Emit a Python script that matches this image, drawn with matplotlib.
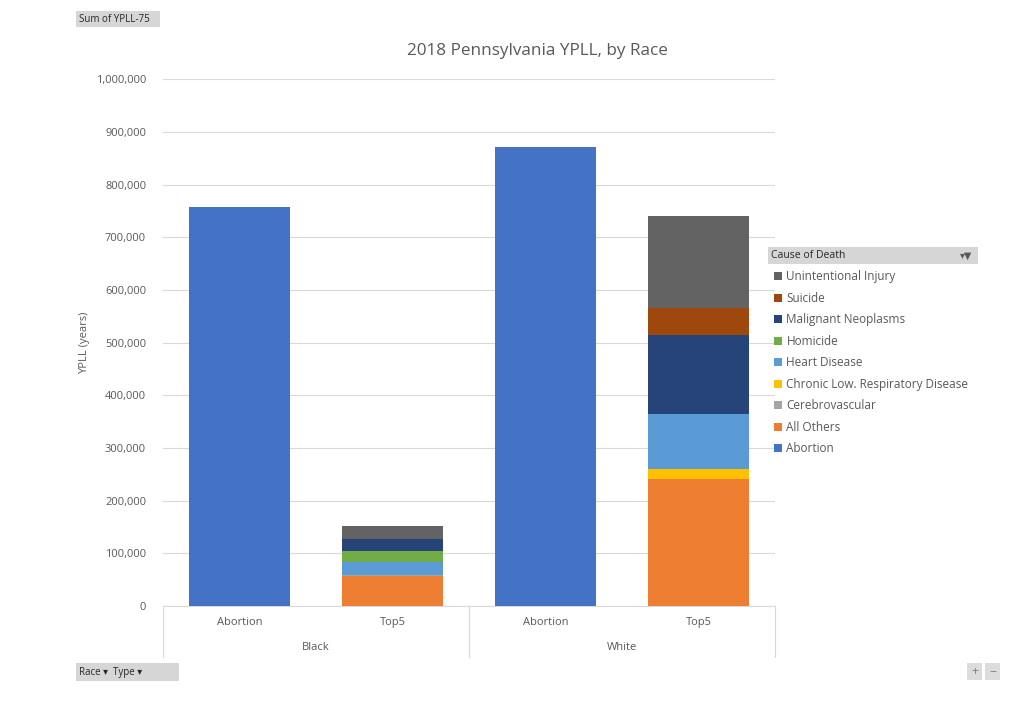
import matplotlib.pyplot as plt
from matplotlib.patches import FancyBboxPatch
import numpy as np

# Categories (Race / Type)
races = ['Black', 'White']
types = ['Abortion', 'Top5']

# Stack order, bottom to top
causes = ['Abortion', 'All Others', 'Cerebrovascular', 'Chronic Low. Respiratory Disease',
          'Heart Disease', 'Homicide', 'Malignant Neoplasms', 'Suicide', 'Unintentional Injury']

# values per cause for: Black-Abortion, Black-Top5, White-Abortion, White-Top5
abortion      = [757000, 0, 872000, 0]
all_others    = [0, 56000, 0, 241000]
cerebro       = [0, 2000, 0, 0]
chronic_resp  = [0, 0, 0, 19000]
heart         = [0, 25000, 0, 104000]
homicide      = [0, 22000, 0, 0]
malignant     = [0, 22000, 0, 150000]
suicide       = [0, 0, 0, 51000]
unintentional = [0, 25000, 0, 176000]

series = [abortion, all_others, cerebro, chronic_resp, heart, homicide,
          malignant, suicide, unintentional]
colors = ['#4472C4', '#ED7D31', '#A5A5A5', '#FFC000', '#5B9BD5', '#70AD47',
          '#264478', '#9E480E', '#636363']

txt = '#595959'
plt.rcParams['font.family'] = ['Open Sans', 'DejaVu Sans']

fig = plt.figure(figsize=(10.24, 7.1), dpi=100)
ax = fig.add_axes([0.159, 0.1465, 0.598, 0.742])

x = np.arange(len(races) * len(types))
bottom = np.zeros(len(x))
bars = []
for vals, col, name in zip(series, colors, causes):
    b = ax.bar(x, vals, 0.66, bottom=bottom, color=col, label=name, zorder=3)
    bars.append(b)
    bottom += np.array(vals)

ax.set_xlim(-0.5, 3.5)
ax.set_ylim(0, 1000000)
ax.set_yticks(np.arange(0, 1000001, 100000))
ax.set_yticklabels([f'{v:,}' for v in range(0, 1000001, 100000)], fontsize=8, color=txt)
ax.grid(axis='y', color='#D9D9D9', linewidth=0.8, zorder=0)
ax.tick_params(axis='y', length=0, pad=12)
ax.tick_params(axis='x', length=0, pad=8)
for s in ['top', 'right', 'left']:
    ax.spines[s].set_visible(False)
ax.spines['bottom'].set_color('#D9D9D9')

ax.set_xticks(x)
ax.set_xticklabels(types * len(races), fontsize=8, color=txt)
for i, r in enumerate(races):
    ax.text(i * 2 + 0.5, -0.078, r, transform=ax.get_xaxis_transform(),
            ha='center', va='center', fontsize=8, color=txt)
for xs in [-0.5, 1.5, 3.5]:
    ax.plot([xs, xs], [0, -0.097], transform=ax.get_xaxis_transform(),
            color='#D9D9D9', linewidth=0.8, clip_on=False)

ax.set_ylabel('YPLL (years)', fontsize=8, color=txt)
ax.yaxis.set_label_coords(-0.119, 0.5)
fig.text(0.525, 0.928, '2018 Pennsylvania YPLL, by Race', ha='center', va='center',
         fontsize=12.3, color=txt)

# legend (reverse order, like the pivot chart)
handles = [b[0] for b in bars][::-1]
labels = causes[::-1]
leg = fig.legend(handles, labels, loc='upper left', bbox_to_anchor=(0.745, 0.634),
                 frameon=False, fontsize=8.5, handlelength=0.7, handleheight=0.7,
                 handletextpad=0.4, labelspacing=0.72, labelcolor=txt)

# pivot field buttons
def button(x0, y0, w, h, label, size=8):
    fig.patches.append(FancyBboxPatch((x0 / 1024, 1 - (y0 + h) / 710), w / 1024, h / 710,
                                      boxstyle='square,pad=0', transform=fig.transFigure,
                                      facecolor='#D6D6D6', edgecolor='none'))
    fig.text((x0 + 3) / 1024, 1 - (y0 + h / 2) / 710, label, ha='left', va='center',
             fontsize=size, color='#262626')

button(76, 11, 84, 16, 'Sum of YPLL-75', 7)
button(768, 247, 210, 17, 'Cause of Death  ', 7.5)
fig.text(972 / 1024, 1 - 256 / 710, '\u25be\u25bc', ha='right', va='center', fontsize=7, color='#595959')
button(76, 663, 103, 18, 'Race \u25be  Type \u25be', 7)
fig.patches.append(FancyBboxPatch((967 / 1024, 1 - 680 / 710), 15 / 1024, 17 / 710,
                                  boxstyle='square,pad=0', transform=fig.transFigure,
                                  facecolor='#DCDCDC', edgecolor='none'))
fig.patches.append(FancyBboxPatch((985 / 1024, 1 - 680 / 710), 15 / 1024, 17 / 710,
                                  boxstyle='square,pad=0', transform=fig.transFigure,
                                  facecolor='#DCDCDC', edgecolor='none'))
fig.text(974.5 / 1024, 1 - 672 / 710, '+', ha='center', va='center', fontsize=9, color='#808080')
fig.text(992.5 / 1024, 1 - 672 / 710, '\u2212', ha='center', va='center', fontsize=9, color='#808080')

fig.savefig('out.png', dpi=100)
